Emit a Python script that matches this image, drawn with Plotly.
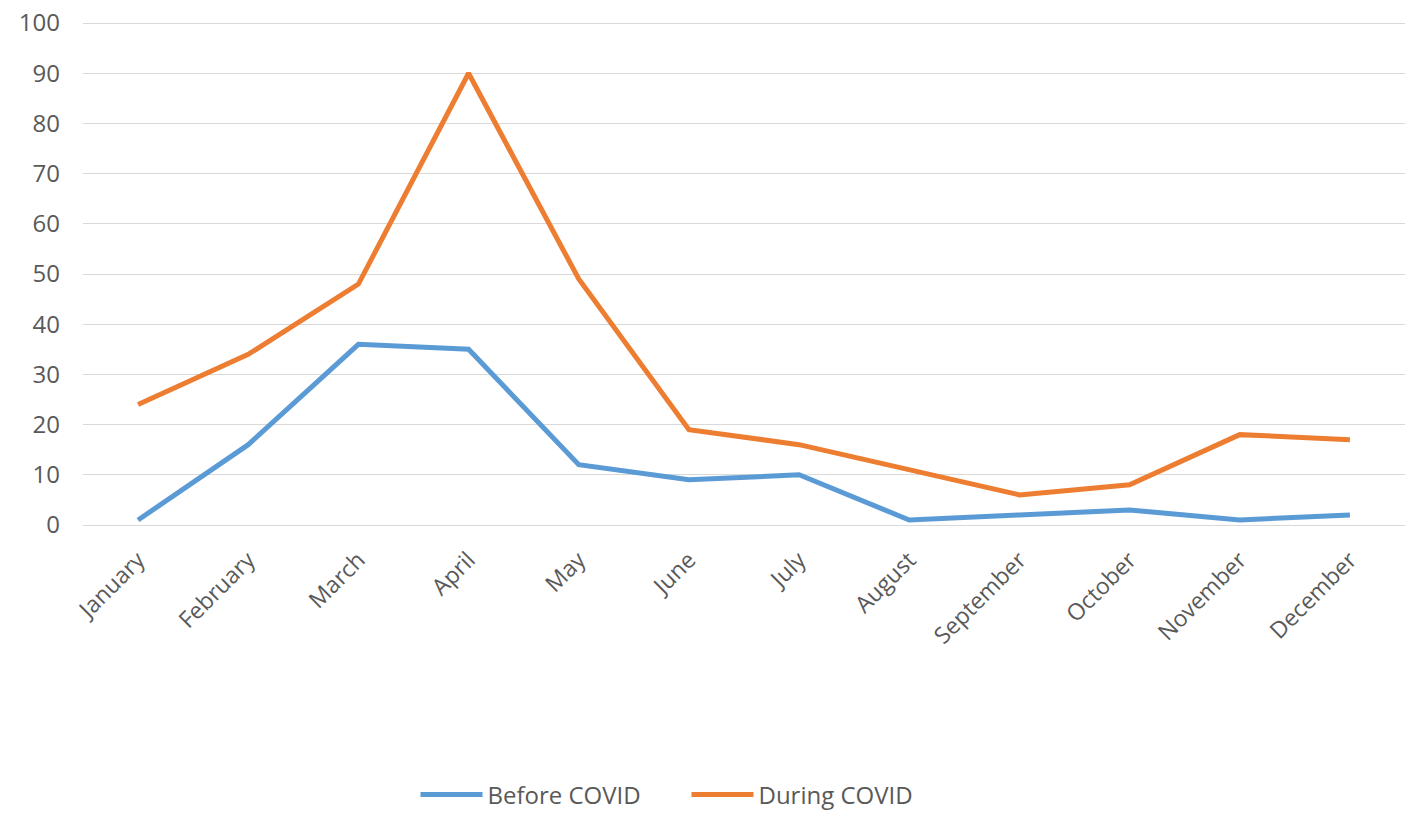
import plotly.graph_objects as go

months = ['January', 'February', 'March', 'April', 'May', 'June', 'July',
          'August', 'September', 'October', 'November', 'December']
before_covid = [1, 16, 36, 35, 12, 9, 10, 1, 2, 3, 1, 2]
during_covid = [24, 34, 48, 90, 49, 19, 16, 11, 6, 8, 18, 17]

fig = go.Figure()
fig.add_trace(go.Scatter(x=months, y=before_covid, mode='lines', name='Before COVID',
                         line=dict(color='#5B9BD5', width=5)))
fig.add_trace(go.Scatter(x=months, y=during_covid, mode='lines', name='During COVID',
                         line=dict(color='#ED7D31', width=5)))

fig.update_layout(
    width=1418, height=823,
    margin=dict(l=83, r=13, t=18, b=298),
    plot_bgcolor='white', paper_bgcolor='white',
    font=dict(family='Open Sans', size=24, color='#595959'),
    showlegend=True,
    legend=dict(orientation='h', xref='container', yref='container',
                x=0.293, y=0.034, xanchor='left', yanchor='middle',
                font=dict(size=24, color='#595959'), itemwidth=62,
                entrywidth=194, entrywidthmode='pixels'),
    xaxis=dict(tickangle=-45, showgrid=False, showline=False, ticks='',
               range=[-0.5, 11.5], ticklabelstandoff=16, automargin=False,
               tickfont=dict(size=23)),
    # range a bit above 100 so the top gridline gets drawn
    yaxis=dict(range=[0, 101], dtick=10, gridcolor='#D9D9D9', gridwidth=1,
               zeroline=True, zerolinecolor='#D9D9D9', zerolinewidth=1,
               showline=False, ticks='', ticklabelstandoff=22, automargin=False,
               ticklabeloverflow='allow', tickfont=dict(size=24)),
)

# drop the default page margin so the figure fills the window
fig.write_html("out.html", config={'displayModeBar': False},
               post_script="document.body.style.margin='0';")
